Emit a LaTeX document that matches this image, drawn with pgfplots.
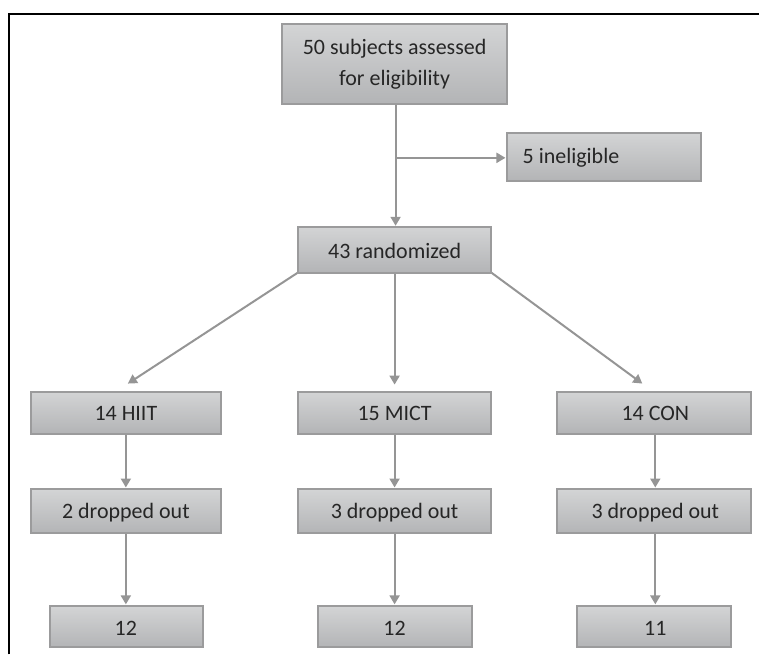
\documentclass[border=0pt]{standalone}
\usepackage{pgfplots}
\pgfplotsset{compat=1.18}
\usetikzlibrary{arrows.meta}
\usepackage{fontspec}
\setmainfont{Carlito}
\definecolor{boxtop}{HTML}{D3D4D5}
\definecolor{boxbot}{HTML}{B3B4B6}
\definecolor{boxedge}{HTML}{9B9B9C}
\definecolor{arrowcol}{HTML}{959595}
\definecolor{textcol}{HTML}{262626}
\tikzset{lbl/.style={font=\fontsize{22}{31}\selectfont, text=textcol, inner sep=0pt}}
\newcommand{\flowbox}[4]{%
  \addplot[draw=boxedge, line width=2pt, top color=boxtop, bottom color=boxbot, mark=none]
    coordinates {(#1,#2) (#3,#2) (#3,#4) (#1,#4)} -- cycle;}
\newcommand{\flowarrow}[4]{%
  \addplot[draw=arrowcol, line width=2pt, mark=none, -{Triangle[width=10pt,length=9pt]}]
    coordinates {(#1,#2) (#3,#4)};}
\begin{document}
\begin{tikzpicture}
\begin{axis}[
  scale only axis, width=760pt, height=655pt,
  xmin=0, xmax=760, ymin=0, ymax=655,
  y dir=reverse, hide axis, clip=false,
]
% invisible extent
\addplot[draw=none, mark=none] coordinates {(0,0) (760,655)};
% frame
\addplot[black, line width=1.6pt, mark=none] coordinates {(9,655) (9,14) (760,14)};
% arrows
\addplot[draw=arrowcol, line width=2pt, mark=none] coordinates {(396,104) (396,158)};
\flowarrow{396}{158}{396}{226}
\flowarrow{396}{158}{506}{158}
\flowarrow{298}{273}{128}{384}
\flowarrow{395}{274}{395}{385}
\flowarrow{492}{273}{643}{384}
\flowarrow{126}{434}{126}{488}
\flowarrow{395}{434}{395}{488}
\flowarrow{656}{434}{656}{488}
\flowarrow{126}{534}{126}{605}
\flowarrow{395}{534}{395}{605}
\flowarrow{656}{534}{656}{605}
% boxes
\flowbox{282}{24}{508}{104}
\flowbox{508}{133}{702}{181}
\flowbox{298}{227}{492}{273}
\flowbox{31}{392}{221}{434}
\flowbox{298}{392}{492}{434}
\flowbox{558}{392}{752}{434}
\flowbox{31}{490}{221}{534}
\flowbox{298}{490}{492}{534}
\flowbox{558}{490}{752}{534}
\flowbox{50}{607}{203}{648}
\flowbox{318}{607}{472}{648}
\flowbox{578}{607}{732}{648}
% texts
\node[lbl, align=center] at (axis cs:395,64) {50 subjects assessed\\for eligibility};
\node[lbl, anchor=west] at (axis cs:523,158) {5 ineligible};
\node[lbl] at (axis cs:395,251) {43 randomized};
\node[lbl] at (axis cs:126,414) {14 HIIT};
\node[lbl] at (axis cs:395,414) {15 MICT};
\node[lbl] at (axis cs:656,414) {14 CON};
\node[lbl] at (axis cs:126,513) {2 dropped out};
\node[lbl] at (axis cs:395,513) {3 dropped out};
\node[lbl] at (axis cs:656,513) {3 dropped out};
\node[lbl] at (axis cs:126,629) {12};
\node[lbl] at (axis cs:395,629) {12};
\node[lbl] at (axis cs:656,629) {11};
\end{axis}
\end{tikzpicture}
\end{document}
